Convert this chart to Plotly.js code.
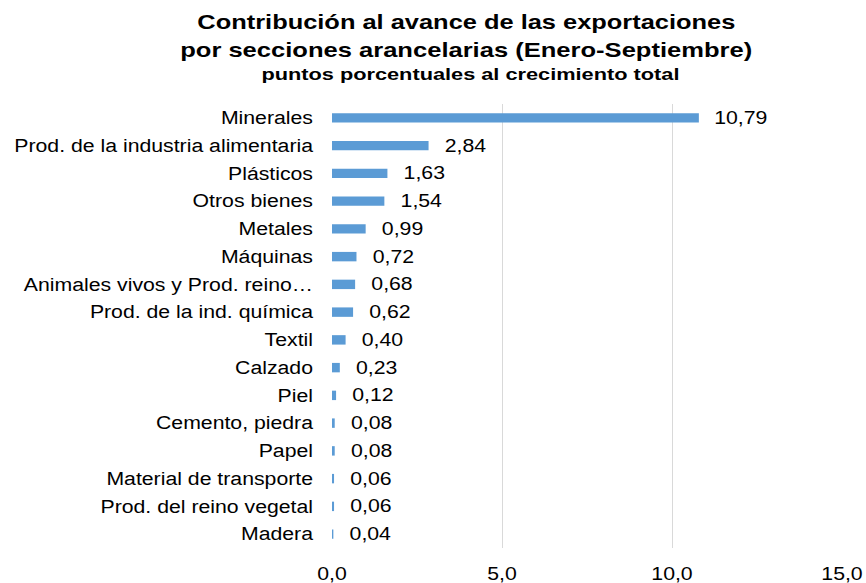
<!DOCTYPE html>
<html><head><meta charset="utf-8">
<script src="https://cdn.plot.ly/plotly-3.0.1.min.js"></script>
<style>body{margin:0;background:#fff}#c{width:866px;height:583px}</style>
</head><body><div id="c"></div>
<script>
const categories = ["Minerales","Prod. de la industria alimentaria","Plásticos","Otros bienes","Metales","Máquinas","Animales vivos y Prod. reino…","Prod. de la ind. química","Textil","Calzado","Piel","Cemento, piedra","Papel","Material de transporte","Prod. del reino vegetal","Madera"];
const values = [10.79,2.84,1.63,1.54,0.99,0.72,0.68,0.62,0.40,0.23,0.12,0.08,0.08,0.06,0.06,0.04];
const xTicks = [0,5,10,15];
const titleLines = ["Contribución al avance de las exportaciones","por secciones arancelarias (Enero-Septiembre)","puntos porcentuales al crecimiento total"];

const font = "Liberation Sans, Arial, sans-serif";
const titleWidths = [538, 572, 418];
const stretch = 1.18;
const cx = (466-332)/510;

Plotly.newPlot('c', [{
  type:'bar', orientation:'h', x:values, y:categories,
  marker:{color:'#5B9BD5'},
  texttemplate:'   %{x:.2f}', textposition:'outside', constraintext:'none',
  textfont:{family:font,size:18,color:'#000'}, cliponaxis:false,
  hoverinfo:'none'
}], {
  width:866, height:583, separators:',.',
  margin:{l:332,r:24,t:104,b:35},
  paper_bgcolor:'#fff', plot_bgcolor:'#fff',
  bargap:0.66, showlegend:false,
  xaxis:{range:[0,15], tickvals:xTicks, tickformat:'.1f', showgrid:true, gridcolor:'#d9d9d9', gridwidth:1,
    zeroline:false, showline:false, ticks:'', tickfont:{family:font,size:18,color:'#000'}, ticklabelstandoff:13, fixedrange:true},
  yaxis:{autorange:'reversed', type:'category', showgrid:false, zeroline:false, showline:false, ticks:'',
    tickfont:{family:font,size:18,color:'#000'}, ticklabelstandoff:18, fixedrange:true},
  annotations:[
    {text:'<b>'+titleLines[0]+'</b>', xref:'paper', yref:'paper', x:cx, y:1, xanchor:'center', yanchor:'middle', yshift:83, showarrow:false, font:{family:font,size:21,color:'#000'}},
    {text:'<b>'+titleLines[1]+'</b>', xref:'paper', yref:'paper', x:cx, y:1, xanchor:'center', yanchor:'middle', yshift:55, showarrow:false, font:{family:font,size:21,color:'#000'}},
    {text:'<b>'+titleLines[2]+'</b>', xref:'paper', yref:'paper', x:cx+0.008, y:1, xanchor:'center', yanchor:'middle', yshift:30, showarrow:false, font:{family:font,size:17,color:'#000'}}
  ]
}, {staticPlot:true}).then(gd => {
  // widen glyphs horizontally to match the reference rendering
  gd.querySelectorAll('.ytick text, .xtick text, .bartext').forEach(t => {
    const w = t.getComputedTextLength();
    t.setAttribute('textLength', (w*stretch).toFixed(1));
    t.setAttribute('lengthAdjust', 'spacingAndGlyphs');
  });
  gd.querySelectorAll('.annotation-text').forEach((t, i) => {
    t.setAttribute('textLength', titleWidths[i]);
    t.setAttribute('lengthAdjust', 'spacingAndGlyphs');
  });
});
</script></body></html>
